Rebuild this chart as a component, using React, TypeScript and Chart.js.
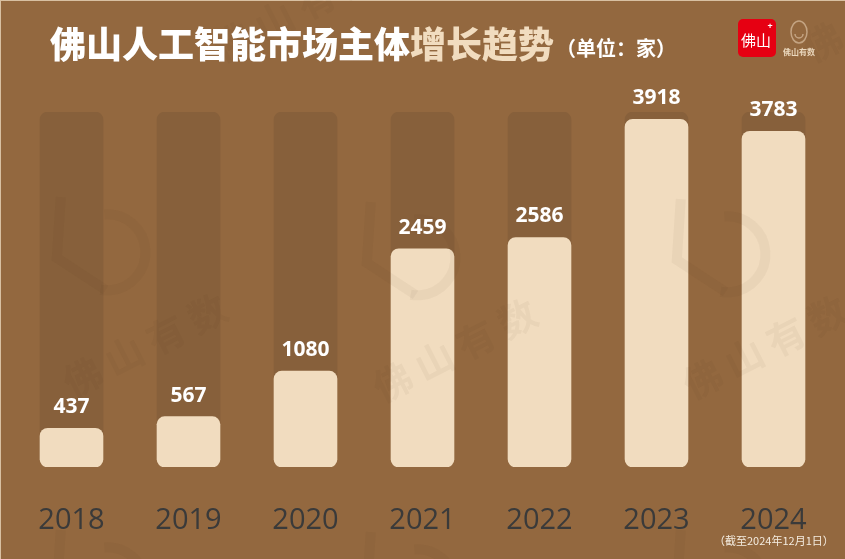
import React, { useEffect, useRef } from "react";
import { Chart, registerables } from "chart.js";

Chart.register(...registerables);

const years = ["2018", "2019", "2020", "2021", "2022", "2023", "2024"];
const counts = [437, 567, 1080, 2459, 2586, 3918, 3783];
const trackValue = [4000, 4000, 4000, 4000, 4000, 4000, 4000];
const titleMain = "佛山人工智能市场主体";
const titleAccent = "增长趋势";
const titleUnit = "（单位：家）";
const note = "（截至2024年12月1日）";
const watermarkText = "佛山有数";

const BG = "#93683F";
const TRACK = "#87603B";
const BAR = "#F1DCBF";
const CJK = "'Noto Sans CJK SC', 'Noto Sans', sans-serif";
const LATIN = "'Open Sans', 'Noto Sans', sans-serif";

function drawWatermark(ctx: CanvasRenderingContext2D, cx: number, cy: number, withText: boolean) {
  const col = "rgba(80, 48, 18, 0.045)";
  ctx.save();
  ctx.save();
  ctx.translate(cx - 50, cy - 100);
  ctx.rotate(-0.45);
  ctx.strokeStyle = col;
  ctx.lineWidth = 10;
  ctx.beginPath();
  ctx.moveTo(-10, -58);
  ctx.lineTo(-40, -5);
  ctx.lineTo(-10, 45);
  ctx.stroke();
  ctx.beginPath();
  ctx.arc(8, 12, 38, -1.2, 2.2);
  ctx.stroke();
  ctx.restore();
  if (withText) {
    ctx.translate(cx, cy);
    ctx.rotate(-0.47);
    ctx.fillStyle = col;
    ctx.font = `bold 38px ${CJK}`;
    ctx.textAlign = "center";
    ctx.textBaseline = "middle";
    ctx.fillText(watermarkText.split("").join(" "), 0, 0);
  }
  ctx.restore();
}

const decorPlugin = {
  id: "decor",
  beforeDraw(chart: any) {
    const ctx = chart.ctx as CanvasRenderingContext2D;
    ctx.save();
    ctx.fillStyle = BG;
    ctx.fillRect(0, 0, chart.width, chart.height);
    ctx.fillStyle = "#D8C0A2";
    ctx.fillRect(0, 0, 1, chart.height);
    ctx.fillRect(0, 0, chart.width, 1);
    ctx.restore();
  },
  afterDatasetsDraw(chart: any) {
    const ctx = chart.ctx as CanvasRenderingContext2D;
    drawWatermark(ctx, 145, 345, true);
    drawWatermark(ctx, 455, 350, true);
    drawWatermark(ctx, 765, 347, true);
    drawWatermark(ctx, 145, 678, false);
    drawWatermark(ctx, 455, 680, false);
    drawWatermark(ctx, 765, 678, false);
    drawWatermark(ctx, 295, 10, true);
    drawWatermark(ctx, 885, 10, true);

    const meta = chart.getDatasetMeta(1);
    ctx.save();
    ctx.textAlign = "center";
    ctx.textBaseline = "middle";
    meta.data.forEach((el: any, i: number) => {
      ctx.fillStyle = "#FFFFFF";
      ctx.font = `bold 21px ${LATIN}`;
      ctx.fillText(String(counts[i]), el.x, el.y - 21);
      ctx.fillStyle = "#3A3A3A";
      ctx.font = `29px ${LATIN}`;
      ctx.fillText(years[i], el.x, 521);
    });
    ctx.restore();
  },
  afterDraw(chart: any) {
    const ctx = chart.ctx as CanvasRenderingContext2D;
    ctx.save();
    ctx.textBaseline = "middle";
    ctx.textAlign = "left";
    ctx.font = `900 36px ${CJK}`;
    ctx.fillStyle = "#FFFFFF";
    let x = 50;
    ctx.fillText(titleMain, x, 44);
    x += ctx.measureText(titleMain).width;
    ctx.fillStyle = BAR;
    ctx.fillText(titleAccent, x, 44);
    x += ctx.measureText(titleAccent).width + 2;
    ctx.font = `bold 20px ${CJK}`;
    ctx.fillStyle = "#FFFFFF";
    ctx.fillText(titleUnit, x, 48);

    ctx.fillStyle = "#E60012";
    ctx.beginPath();
    (ctx as any).roundRect(738, 19, 38, 38, 5);
    ctx.fill();
    ctx.fillStyle = "#FFFFFF";
    ctx.textAlign = "center";
    ctx.font = `15px ${CJK}`;
    ctx.fillText("佛山", 756, 40);
    ctx.font = `bold 9px ${LATIN}`;
    ctx.fillText("+", 770, 26);

    ctx.strokeStyle = "rgba(236, 214, 186, 0.55)";
    ctx.lineWidth = 1.5;
    ctx.beginPath();
    ctx.ellipse(799, 32, 8, 11, 0, 0, Math.PI * 2);
    ctx.stroke();
    ctx.beginPath();
    ctx.arc(799, 34, 4, 0, Math.PI);
    ctx.stroke();
    ctx.fillStyle = "#EAD7BD";
    ctx.font = `bold 8px ${CJK}`;
    ctx.fillText("佛山有数", 799, 52);

    ctx.fillStyle = "#F4ECE0";
    ctx.font = `11px ${CJK}`;
    ctx.textAlign = "left";
    ctx.fillText(note, 714, 541);
    ctx.restore();
  },
};

export default function App() {
  const ref = useRef<HTMLCanvasElement | null>(null);
  useEffect(() => {
    if (!ref.current) return;
    const chart = new Chart(ref.current, {
      type: "bar",
      data: {
        labels: years,
        datasets: [
          {
            label: "track",
            data: trackValue,
            backgroundColor: TRACK,
            borderRadius: 8,
            borderSkipped: false,
            barThickness: 63,
            grouped: false,
            order: 2,
          } as any,
          {
            label: "count",
            data: counts,
            backgroundColor: BAR,
            borderRadius: 8,
            borderSkipped: false,
            barThickness: 63,
            grouped: false,
            order: 1,
          } as any,
        ],
      },
      options: {
        animation: false,
        responsive: false,
        devicePixelRatio: 1,
        layout: { padding: { left: 13, right: 13, top: 112, bottom: 92 } },
        plugins: { legend: { display: false }, tooltip: { enabled: false }, title: { display: false } },
        scales: {
          x: { display: false },
          y: { display: false, min: 0, max: 4000 },
        },
      },
      plugins: [decorPlugin],
    });
    return () => chart.destroy();
  }, []);
  return (
    <div style={{ position: "fixed", left: 0, top: 0, width: 845, height: 559 }}>
      <canvas ref={ref} width={845} height={559} style={{ width: 845, height: 559, display: "block" }} />
    </div>
  );
}
